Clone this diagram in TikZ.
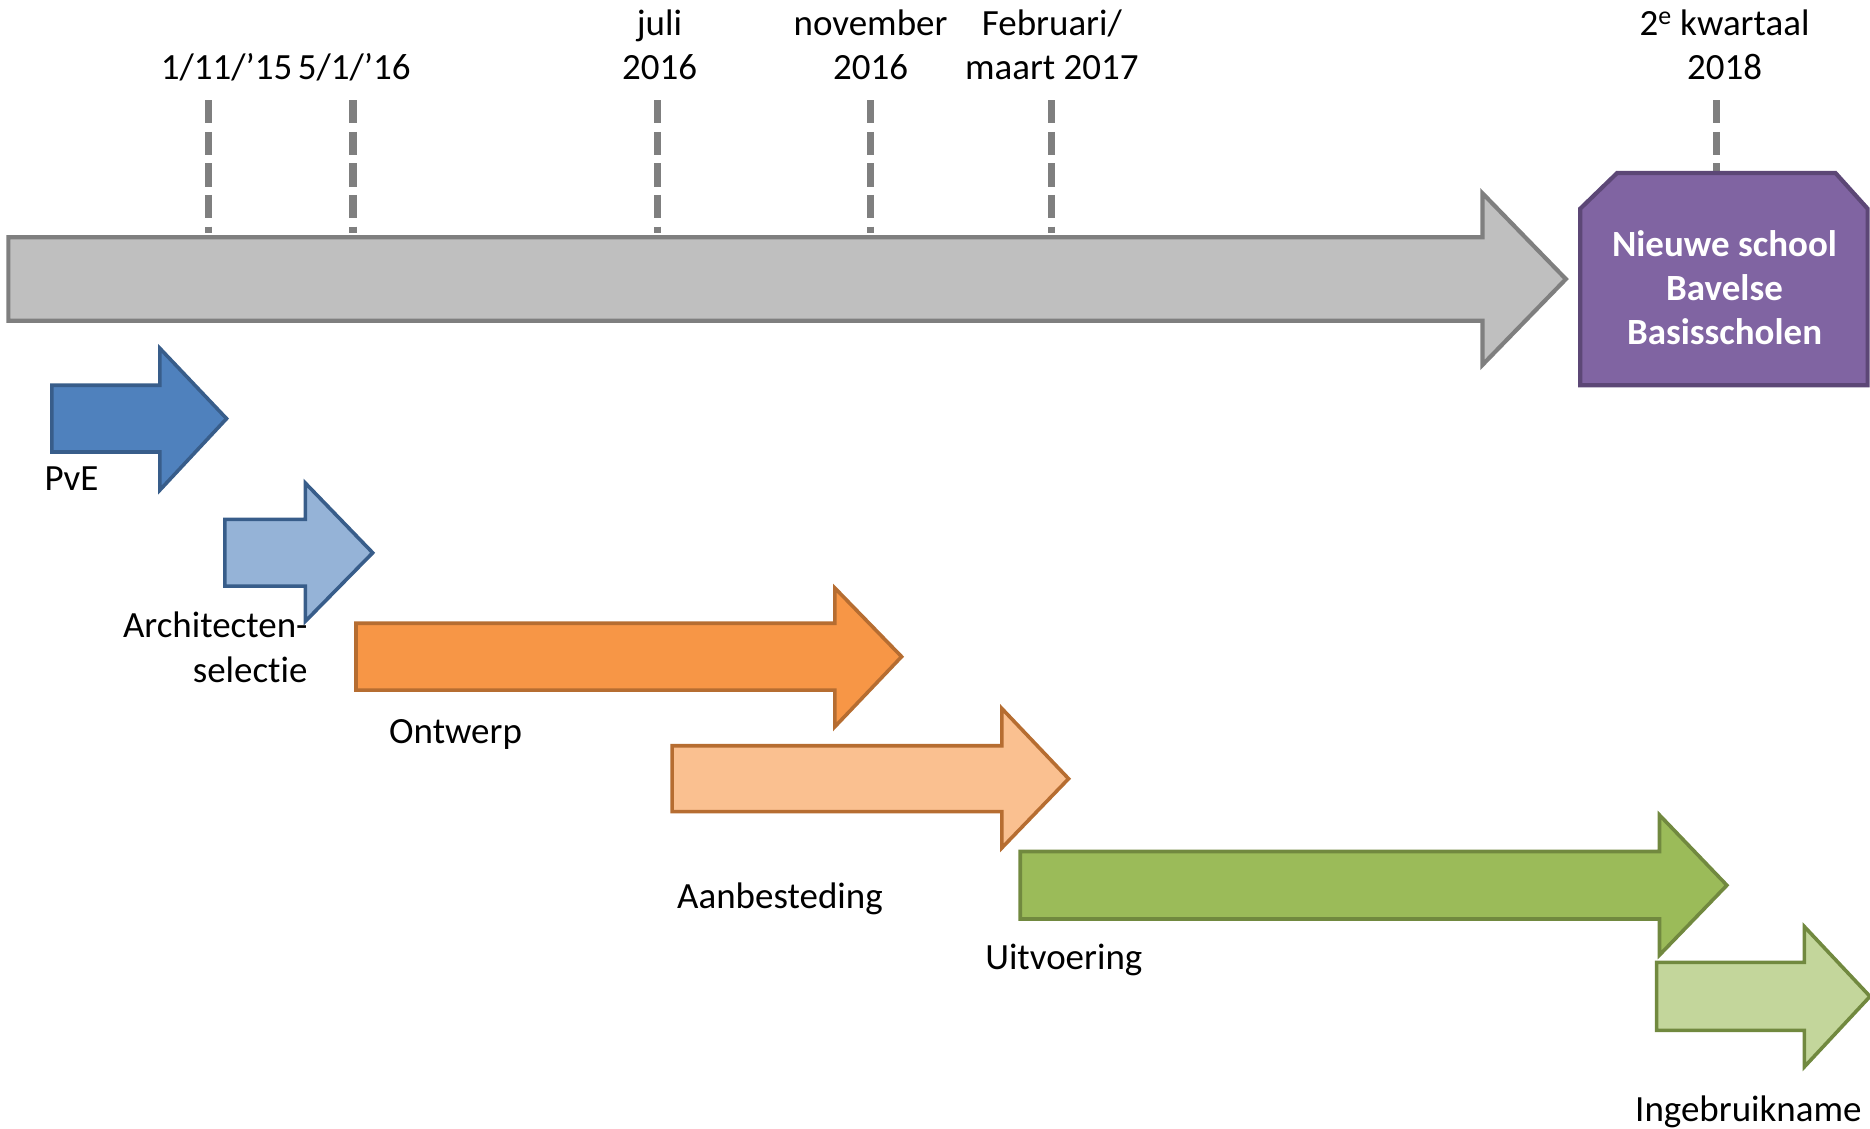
\documentclass[tikz,border=0pt]{standalone}
\usepackage{fontspec}
\setmainfont{Carlito}[Ligatures=NoCommon]
\definecolor{tlfill}{HTML}{BFBFBF}
\definecolor{tlline}{HTML}{7F7F7F}
\definecolor{purfill}{HTML}{8064A2}
\definecolor{purline}{HTML}{5C4776}
\definecolor{bluedark}{HTML}{4F81BD}
\definecolor{bluelight}{HTML}{95B3D7}
\definecolor{blueline}{HTML}{385D8A}
\definecolor{orfill}{HTML}{F79646}
\definecolor{orlight}{HTML}{FAC090}
\definecolor{orline}{HTML}{B66D31}
\definecolor{grfill}{HTML}{9BBB59}
\definecolor{grlight}{HTML}{C3D69B}
\definecolor{grline}{HTML}{71893F}
\newcommand\PhaseArrow[8]{%
  \draw[#1] (#2,#5) -- (#3,#5) -- (#3,#7) -- (#4,{(#5+#6)/2}) -- (#3,#8) -- (#3,#6) -- (#2,#6) -- cycle;}
\begin{document}
\begin{tikzpicture}[x=1pt,y=-1pt,
  lbl/.style={inner sep=0pt, anchor=base, font=\fontsize{31}{37.5}\selectfont, align=center},
  tick/.style={draw=tlline, line width=6pt, dash pattern=on 19.5pt off 7pt},
  timeline/.style={fill=tlfill, draw=tlline, line width=3.5pt},
  schoolbox/.style={fill=purfill, draw=purline, line width=3.5pt},
  pve/.style={fill=bluedark, draw=blueline, line width=3pt},
  arch/.style={fill=bluelight, draw=blueline, line width=3pt},
  ontw/.style={fill=orfill, draw=orline, line width=3pt},
  aanb/.style={fill=orlight, draw=orline, line width=3pt},
  uitv/.style={fill=grfill, draw=grline, line width=3pt},
  ingeb/.style={fill=grlight, draw=grline, line width=3pt}]
\useasboundingbox (0,0) rectangle (1568,946);
% dashed milestone ticks
\foreach \n/\x/\yb in {t1/175/195, t2/296/195, t3/551.5/195, t4/730/195, t5/881.7/195, t6/1439/145} {
  \coordinate (\n a) at (\x,84);
  \coordinate (\n b) at (\x,\yb);
  \draw[tick] (\n a) -- (\n b);
}
% timeline arrow
\PhaseArrow{timeline}{7}{1243}{1313}{199}{269}{162}{306}
% school box
\draw[schoolbox] (1325,175) -- (1356,145) -- (1539,145) -- (1566,175) -- (1566,323) -- (1325,323) -- cycle;
\node[lbl, text=white, font=\fontsize{31}{37}\selectfont\bfseries] (school) at (1446,289) {Nieuwe school\\Bavelse\\Basisscholen};
% milestone labels
\node[lbl] (m1) at (190,67) {1/11/’15};
\node[lbl] (m2) at (297,67) {5/1/’16};
\node[lbl] (m3) at (553,67) {juli\\2016};
\node[lbl] (m4) at (730,67) {november\\2016};
\node[lbl] (m5) at (882,67) {Februari/\\maart 2017};
\node[lbl] (m6) at (1446,67) {2\textsuperscript{e} kwartaal\\2018};
% phase arrows
\PhaseArrow{pve}{43.5}{134}{190}{323}{379}{292}{411}
\PhaseArrow{arch}{188.5}{256}{312.5}{435.5}{491.5}{405}{521}
\PhaseArrow{ontw}{298.5}{700}{756}{522.6}{578.6}{493}{609.4}
\PhaseArrow{aanb}{563.5}{840}{896}{625.3}{680.6}{594}{711}
\PhaseArrow{uitv}{855.5}{1391.5}{1448}{714}{770.6}{683.4}{800.8}
\PhaseArrow{ingeb}{1389}{1513}{1568}{807}{864}{777}{894.5}
% phase labels
\node[lbl] (l1) at (60,411) {PvE};
\node[lbl, align=right, anchor=base east] (l2) at (258,572) {Architecten-\\selectie};
\node[lbl] (l3) at (382,623) {Ontwerp};
\node[lbl] (l4) at (654,762) {Aanbesteding};
\node[lbl] (l5) at (892,813) {Uitvoering};
\node[lbl] (l6) at (1466,940) {Ingebruikname};
\end{tikzpicture}
\end{document}
